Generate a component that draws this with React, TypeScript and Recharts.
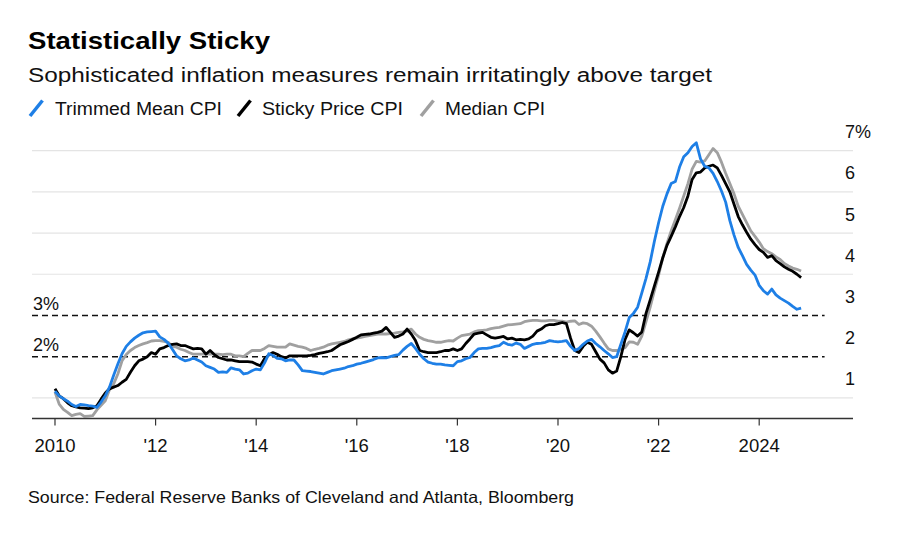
import React from 'react';
import { LineChart, Line, XAxis, YAxis, ReferenceLine } from 'recharts';

const START_YEAR = 2010;

// Monthly 12-month % change, Jan 2010 .. Nov 2024
const trimmedMean = [
  1.16, 1.05, 0.98, 0.92, 0.84, 0.79, 0.84, 0.83, 0.81, 0.80, 0.77, 0.90,
  1.05, 1.26, 1.55, 1.82, 2.07, 2.25, 2.36, 2.45, 2.52, 2.58, 2.60, 2.61,
  2.62, 2.48, 2.42, 2.33, 2.18, 2.02, 1.95, 1.90, 1.92, 1.97, 1.92, 1.87,
  1.78, 1.74, 1.70, 1.62, 1.63, 1.62, 1.73, 1.70, 1.68, 1.58, 1.60, 1.66,
  1.70, 1.68, 1.85, 2.07, 2.03, 1.96, 1.95, 1.90, 1.92, 1.92, 1.80, 1.66,
  1.65, 1.64, 1.62, 1.60, 1.58, 1.62, 1.66, 1.68, 1.70, 1.72, 1.76, 1.78,
  1.82, 1.84, 1.87, 1.90, 1.93, 1.97, 1.98, 1.97, 2.00, 2.03, 2.05, 2.16,
  2.25, 2.32, 2.20, 2.06, 1.95, 1.87, 1.84, 1.82, 1.82, 1.80, 1.79, 1.78,
  1.88, 1.90, 1.95, 1.98, 2.10, 2.19, 2.20, 2.20, 2.22, 2.25, 2.27, 2.35,
  2.30, 2.28, 2.33, 2.30, 2.20, 2.25, 2.30, 2.32, 2.33, 2.35, 2.39, 2.37,
  2.36, 2.37, 2.39, 2.25, 2.15, 2.20, 2.30, 2.38, 2.42, 2.32, 2.24, 2.15,
  2.07, 1.98, 2.00, 2.30, 2.60, 2.95, 3.05, 3.20, 3.55, 3.90, 4.30, 4.80,
  5.25, 5.65, 5.95, 6.20, 6.25, 6.60, 6.85, 6.95, 7.10, 7.19, 6.80, 6.62,
  6.58, 6.45, 6.25, 6.02, 5.75, 5.30, 4.95, 4.65, 4.45, 4.24, 4.10, 3.98,
  3.73, 3.60, 3.52, 3.64, 3.50, 3.42, 3.36, 3.30, 3.22, 3.15, 3.18,
];

const stickyPrice = [
  1.22, 1.05, 0.98, 0.88, 0.81, 0.78, 0.76, 0.75, 0.74, 0.76, 0.81, 0.97,
  1.12, 1.22, 1.26, 1.30, 1.38, 1.45, 1.62, 1.78, 1.90, 1.94, 2.00, 2.10,
  2.06, 2.19, 2.22, 2.27, 2.30, 2.31, 2.27, 2.27, 2.23, 2.19, 2.20, 2.19,
  2.06, 2.15, 2.05, 1.98, 1.95, 1.92, 1.92, 1.90, 1.88, 1.88, 1.88, 1.87,
  1.82, 1.78, 1.95, 2.04, 2.10, 2.06, 2.00, 1.97, 2.02, 2.02, 2.02, 2.02,
  2.02, 2.03, 2.05, 2.08, 2.10, 2.12, 2.15, 2.22, 2.29, 2.33, 2.37, 2.42,
  2.47, 2.53, 2.54, 2.55, 2.57, 2.59, 2.62, 2.71, 2.59, 2.47, 2.50, 2.55,
  2.67, 2.55, 2.39, 2.15, 2.12, 2.10, 2.10, 2.10, 2.12, 2.15, 2.15, 2.19,
  2.15, 2.19, 2.32, 2.43, 2.55, 2.57, 2.59, 2.53, 2.47, 2.45, 2.47, 2.49,
  2.43, 2.45, 2.41, 2.42, 2.41, 2.43, 2.50, 2.62, 2.67, 2.75, 2.78, 2.78,
  2.80, 2.83, 2.80, 2.45, 2.15, 2.10, 2.25, 2.35, 2.30, 2.12, 1.94, 1.85,
  1.68, 1.60, 1.65, 2.00, 2.42, 2.65, 2.58, 2.50, 2.60, 3.05, 3.38, 3.72,
  4.05, 4.40, 4.70, 4.92, 5.15, 5.40, 5.62, 5.90, 6.30, 6.46, 6.48, 6.58,
  6.62, 6.65, 6.58, 6.40, 6.20, 6.00, 5.70, 5.40, 5.20, 5.02, 4.85, 4.72,
  4.60, 4.53, 4.41, 4.45, 4.33, 4.26, 4.18, 4.12, 4.07, 4.00, 3.92,
];

const medianCpi = [
  1.14, 0.85, 0.72, 0.65, 0.57, 0.60, 0.62, 0.55, 0.56, 0.57, 0.71, 0.82,
  0.93, 1.20, 1.34, 1.58, 1.90, 2.05, 2.15, 2.22, 2.27, 2.31, 2.34, 2.38,
  2.39, 2.39, 2.37, 2.35, 2.25, 2.23, 2.18, 2.15, 2.10, 2.06, 2.06, 2.06,
  2.06, 2.06, 2.06, 2.06, 2.05, 2.06, 2.06, 2.02, 2.02, 2.00, 2.08, 2.15,
  2.15, 2.15, 2.20, 2.27, 2.25, 2.23, 2.23, 2.23, 2.31, 2.28, 2.25, 2.23,
  2.20, 2.15, 2.18, 2.20, 2.23, 2.28, 2.31, 2.33, 2.35, 2.37, 2.41, 2.43,
  2.45, 2.47, 2.49, 2.51, 2.53, 2.55, 2.55, 2.55, 2.56, 2.57, 2.59, 2.60,
  2.62, 2.67, 2.55, 2.47, 2.42, 2.39, 2.37, 2.35, 2.35, 2.37, 2.39, 2.38,
  2.45, 2.51, 2.53, 2.55, 2.60, 2.63, 2.64, 2.65, 2.68, 2.70, 2.71, 2.74,
  2.77, 2.78, 2.79, 2.80, 2.85, 2.87, 2.88, 2.88, 2.87, 2.87, 2.88, 2.88,
  2.86, 2.86, 2.84, 2.86, 2.87, 2.78, 2.82, 2.80, 2.74, 2.62, 2.48, 2.33,
  2.19, 2.15, 2.15, 2.18, 2.22, 2.36, 2.35, 2.30, 2.50, 2.85, 3.20, 3.60,
  3.97, 4.40, 4.75, 5.05, 5.32, 5.60, 5.90, 6.20, 6.55, 6.74, 6.72, 6.75,
  6.90, 7.05, 6.95, 6.72, 6.45, 6.20, 5.95, 5.65, 5.45, 5.25, 5.05, 4.92,
  4.78, 4.62, 4.55, 4.50, 4.42, 4.36, 4.26, 4.20, 4.15, 4.12, 4.08,
];

const xTicks = [2010, 2012, 2014, 2016, 2018, 2020, 2022, 2024];
const xTickLabels = ['2010', "'12", "'14", "'16", "'18", "'20", "'22", '2024'];
const yTicks = [1, 2, 3, 4, 5, 6, 7];
const yTickLabels = ['1', '2', '3', '4', '5', '6', '7%'];
const gridValues = [1, 4, 5, 6, 7];
const targetValues = [3, 2];
const targetLabels = ['3%', '2%'];

const X_MIN = 2009.543;
const X_MAX = 2025.865;
const TARGET_END = 2025.3;
const Y_MIN = 0.5;
const Y_MAX = 7.5;

const FONT = '"Liberation Sans", Arial, Helvetica, sans-serif';
const BLUE = '#1e7fe6';
const GRAY = '#a0a0a0';
const BLACK = '#000000';

const data = trimmedMean.map((v, i) => ({
  t: START_YEAR + i / 12,
  trimmed: v,
  sticky: stickyPrice[i],
  median: medianCpi[i],
}));

const XTick = (props: any) => {
  const { x, y, payload } = props;
  const idx = xTicks.indexOf(payload.value);
  return (
    <text x={x} y={y} dy="0.71em" textAnchor="middle" fontFamily={FONT} fontSize={18.5} fill="#111">
      {idx >= 0 ? xTickLabels[idx] : ''}
    </text>
  );
};

const YTick = (props: any) => {
  const { y, payload } = props;
  const idx = yTicks.indexOf(payload.value);
  return (
    <text x={845} y={y - 19} dy="0.36em" textAnchor="start" fontFamily={FONT} fontSize={18} fill="#111">
      {idx >= 0 ? yTickLabels[idx] : ''}
    </text>
  );
};

const makeTargetLabel = (text: string) => (props: any) => {
  const vb = props.viewBox || {};
  return (
    <text x={(vb.x ?? 32) + 1} y={(vb.y ?? 0) - 12} dy="0.36em" fontFamily={FONT} fontSize={18} fill="#111">
      {text}
    </text>
  );
};

export default function App() {
  return (
    <div style={{ position: 'absolute', left: 0, top: 0, width: 900, height: 544, background: '#fff' }}>
      <svg width={900} height={544} style={{ position: 'absolute', left: 0, top: 0 }}>
        <text x={28} y={49} fontFamily={FONT} fontWeight="bold" fontSize={24} fill="#000" textLength={242} lengthAdjust="spacingAndGlyphs">
          Statistically Sticky
        </text>
        <text x={28} y={82} fontFamily={FONT} fontSize={20} fill="#111" textLength={684} lengthAdjust="spacingAndGlyphs">
          Sophisticated inflation measures remain irritatingly above target
        </text>
        <line x1={30} y1={116} x2={42.5} y2={100.5} stroke={BLUE} strokeWidth={3.5} />
        <text x={55} y={115} fontFamily={FONT} fontSize={18} fill="#111" textLength={167} lengthAdjust="spacingAndGlyphs">
          Trimmed Mean CPI
        </text>
        <line x1={238} y1={116} x2={250.5} y2={100.5} stroke={BLACK} strokeWidth={3.5} />
        <text x={262} y={115} fontFamily={FONT} fontSize={18} fill="#111" textLength={141} lengthAdjust="spacingAndGlyphs">
          Sticky Price CPI
        </text>
        <line x1={421} y1={116} x2={433.5} y2={100.5} stroke={GRAY} strokeWidth={3.5} />
        <text x={445} y={115} fontFamily={FONT} fontSize={18} fill="#111" textLength={100} lengthAdjust="spacingAndGlyphs">
          Median CPI
        </text>
        <text x={28} y={503} fontFamily={FONT} fontSize={16.5} fill="#111" textLength={546} lengthAdjust="spacingAndGlyphs">
          Source: Federal Reserve Banks of Cleveland and Atlanta, Bloomberg
        </text>
      </svg>
      <div style={{ position: 'absolute', left: 0, top: 0 }}>
        <LineChart width={900} height={544} data={data} margin={{ top: 130, right: 0, bottom: 95.5, left: 32 }}>
          <XAxis
            dataKey="t"
            type="number"
            domain={[X_MIN, X_MAX]}
            ticks={xTicks}
            tick={<XTick />}
            tickSize={7}
            tickMargin={13}
            height={30}
            axisLine={{ stroke: '#333', strokeWidth: 1.5 }}
            tickLine={{ stroke: '#333', strokeWidth: 1.2 }}
            allowDataOverflow
          />
          <YAxis
            orientation="right"
            type="number"
            domain={[Y_MIN, Y_MAX]}
            ticks={yTicks}
            tick={<YTick />}
            axisLine={false}
            tickLine={false}
            width={47}
            allowDataOverflow
          />
          {gridValues.map((v) => (
            <ReferenceLine
              key={'g' + v}
              segment={[{ x: X_MIN, y: v }, { x: X_MAX, y: v }]}
              stroke="#e4e4e4"
              strokeWidth={1.2}
            />
          ))}
          {targetValues.map((v, i) => (
            <ReferenceLine
              key={'t' + v}
              segment={[{ x: X_MIN, y: v }, { x: TARGET_END, y: v }]}
              stroke="#111"
              strokeWidth={1.5}
              strokeDasharray="6 4"
              label={makeTargetLabel(targetLabels[i])}
            />
          ))}
          <Line type="linear" dataKey="median" stroke={GRAY} strokeWidth={2.8} dot={false} isAnimationActive={false} strokeLinejoin="round" />
          <Line type="linear" dataKey="sticky" stroke={BLACK} strokeWidth={2.8} dot={false} isAnimationActive={false} strokeLinejoin="round" />
          <Line type="linear" dataKey="trimmed" stroke={BLUE} strokeWidth={2.8} dot={false} isAnimationActive={false} strokeLinejoin="round" />
        </LineChart>
      </div>
    </div>
  );
}
